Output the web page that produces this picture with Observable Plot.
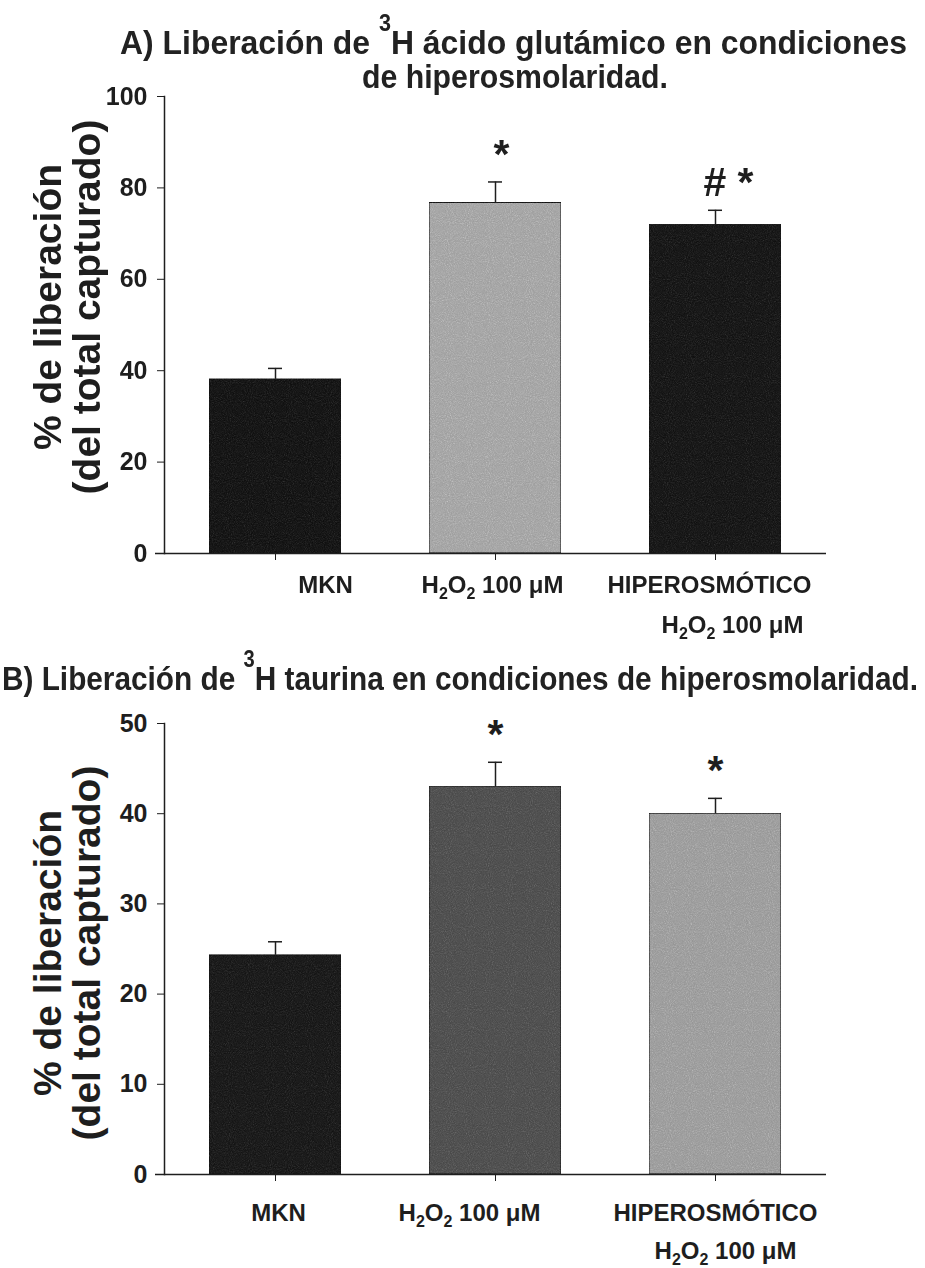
<!DOCTYPE html>
<html><head><meta charset="utf-8">
<script src="https://cdn.jsdelivr.net/npm/d3@7"></script>
<script src="https://cdn.jsdelivr.net/npm/@observablehq/plot@0.6"></script>
<style>
body{margin:0;background:#fff;font-family:"Liberation Sans",Arial,sans-serif;}
#page{position:relative;width:925px;height:1268px;overflow:hidden;background:#fff;}
.title{position:absolute;font-weight:bold;font-size:34px;color:#222;white-space:nowrap;line-height:30px;transform-origin:0 0;}
.title .sup{font-size:23px;position:relative;top:-23px;}
#plotA{position:absolute;left:0;top:50px;}
#plotB{position:absolute;left:0;top:700px;}
</style></head>
<body>
<div id="page">
  <div class="title" id="tA1" data-left="120" data-width="787" style="top:27px;">A) Liberación de <span class="sup">3</span>H ácido glutámico en condiciones</div>
  <div class="title" id="tA2" data-left="362" data-width="306" style="top:61px;">de hiperosmolaridad.</div>
  <div id="plotA"></div>
  <div class="title" id="tB" data-left="2" data-width="916" style="top:663px;">B) Liberación de <span class="sup">3</span>H taurina en condiciones de hiperosmolaridad.</div>
  <div id="plotB"></div>
</div>
<script>
// ---- data ----
const groups = ["MKN", "H2O2", "HIPER"];
const labelLine1 = ["MKN", "H2O2 100 μM", "HIPEROSMÓTICO"];
const labelLine2 = ["", "", "H2O2 100 μM"];
const glutamateMean = [38.1, 76.7, 71.9];
const glutamateSEM = [2.4, 4.6, 3.2];
const glutamateSig = ["", "*", "# *"];
const taurineMean = [24.3, 43.0, 40.0];
const taurineSEM = [1.5, 2.7, 1.7];
const taurineSig = ["", "*", "*"];
const ticksA = [0, 20, 40, 60, 80, 100];
const ticksB = [0, 10, 20, 30, 40, 50];
const yLabel = "% de liberación\n(del total capturado)";

// ---- styles ----
const fillA = ["#202020", "#b0b0b0", "#222222"];
const fillB = ["#252525", "#5a5a5a", "#a8a8a8"];
const ink = "#1e1e1e";
const font = "'Liberation Sans', Arial, sans-serif";

// fit titles to the reference's measured extents
document.querySelectorAll(".title").forEach(el => {
  const w = el.getBoundingClientRect().width;
  const target = +el.dataset.width;
  el.style.left = el.dataset.left + "px";
  el.style.transform = `scaleX(${target / w})`;
});

function buildTable(mean, sem, sig) {
  return groups.map((g, i) => ({key: g, mean: mean[i], top: mean[i] + sem[i], sig: sig[i], l1: labelLine1[i], l2: labelLine2[i], i}));
}

function panel(opts) {
  const {id, table, fills, yMax, ticks, height, marginTop, marginBottom, l1dx, l2dx, l1dy, l2dy, sigDx, labelDy} = opts;
  const marks = [
    Plot.barY(table, {x: "key", y: "mean", fill: d => fills[d.i], stroke: ink, strokeWidth: 1}),
    Plot.ruleX(table, {x: "key", y1: "mean", y2: "top", stroke: ink, strokeWidth: 1.5}),
    Plot.tickY(table, {x: "key", y: "top", stroke: ink, strokeWidth: 1.5, insetLeft: 59, insetRight: 59}),
    Plot.ruleY([0], {stroke: ink, strokeWidth: 1.5, insetLeft: -9}),
    Plot.frame({anchor: "left", stroke: ink, strokeWidth: 1.5}),
    Plot.axisY({ticks, tickSize: 7, tickPadding: 10, fontSize: 25, fontWeight: "bold", label: null, stroke: ink, fill: ink}),
    Plot.axisX({tickSize: 7, tickFormat: () => "", label: null, stroke: ink}),
    Plot.text([yLabel], {frameAnchor: "left", dx: -96, dy: labelDy, rotate: -90, fontSize: 39, fontWeight: "bold", lineHeight: 1.0, fill: ink, textAnchor: "middle"})
  ];
  table.forEach((d, i) => {
    marks.push(Plot.text([d], {x: "key", frameAnchor: "bottom", text: "l1", dx: l1dx[i], dy: l1dy, lineAnchor: "top", fontSize: 24, fontWeight: "bold", fill: ink}));
    if (d.l2) marks.push(Plot.text([d], {x: "key", frameAnchor: "bottom", text: "l2", dx: l2dx[i], dy: l2dy, lineAnchor: "top", fontSize: 24, fontWeight: "bold", fill: ink}));
    if (d.sig) marks.push(Plot.text([d], {x: "key", y: "top", text: "sig", dx: sigDx[i], dy: -27, fontSize: 41, fontWeight: "bold", fill: ink}));
  });
  const svg = Plot.plot({
    width: 925, height, marginLeft: 164, marginRight: 99, marginTop, marginBottom,
    style: {fontFamily: font, background: "transparent", overflow: "visible"},
    x: {domain: groups, paddingInner: 0.4, paddingOuter: 0.2, axis: null},
    y: {domain: [0, yMax], axis: null},
    marks
  });
  // grain texture like the scanned stipple fill
  const ns = "http://www.w3.org/2000/svg";
  const defs = document.createElementNS(ns, "defs");
  defs.innerHTML = `<filter id="grain${id}" x="0" y="0" width="100%" height="100%" color-interpolation-filters="sRGB">
     <feTurbulence type="fractalNoise" baseFrequency="0.95" numOctaves="2" seed="${id === "A" ? 4 : 9}" result="n"/>
     <feColorMatrix in="n" type="saturate" values="0" result="g"/>
     <feComposite in="SourceGraphic" in2="g" operator="arithmetic" k1="0" k2="1" k3="0.3" k4="-0.11" result="c"/>
     <feComposite in="c" in2="SourceGraphic" operator="in"/>
   </filter>`;
  svg.insertBefore(defs, svg.firstChild);
  const barGroup = svg.querySelector("g[aria-label='bar']");
  if (barGroup) barGroup.querySelectorAll("rect").forEach(r => r.setAttribute("filter", `url(#grain${id})`));
  // subscripts for H2O2
  svg.querySelectorAll("text").forEach(t => {
    if (t.children.length === 0 && t.textContent === "H2O2 100 μM") {
      t.textContent = "";
      const parts = [["H", 0, null], ["2", 6, 16], ["O", -6, null], ["2", 6, 16], [" 100 μM", -6, null]];
      parts.forEach(([s, dy, fs]) => {
        const ts = document.createElementNS(ns, "tspan");
        ts.textContent = s;
        if (dy) ts.setAttribute("dy", dy);
        if (fs) ts.setAttribute("font-size", fs);
        t.appendChild(ts);
      });
    }
  });
  return svg;
}

document.getElementById("plotA").appendChild(panel({
  id: "A", table: buildTable(glutamateMean, glutamateSEM, glutamateSig), fills: fillA,
  yMax: 100, ticks: ticksA, height: 600, marginTop: 46, marginBottom: 97,
  l1dx: [50, -3, -6], l2dx: [0, 0, 17], l1dy: 22, l2dy: 62, sigDx: [0, 6, 13], labelDy: -18
}));
document.getElementById("plotB").appendChild(panel({
  id: "B", table: buildTable(taurineMean, taurineSEM, taurineSig), fills: fillB,
  yMax: 50, ticks: ticksB, height: 568, marginTop: 23, marginBottom: 94,
  l1dx: [3, -26, 0], l2dx: [0, 0, 10], l1dy: 29, l2dy: 67, sigDx: [0, 0, 0], labelDy: 4
}));
</script>
</body></html>
